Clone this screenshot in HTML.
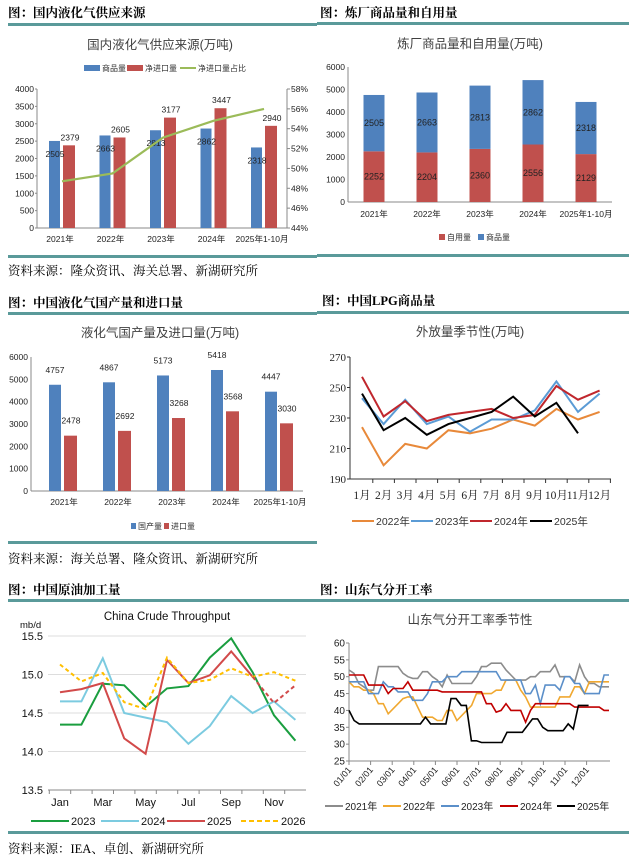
<!DOCTYPE html>
<html><head><meta charset="utf-8"><style>
html,body{margin:0;padding:0;background:#fff;}
svg{display:block;font-family:"Liberation Sans","Noto Sans CJK SC",sans-serif;}
.t{font-family:"Liberation Serif","Noto Serif CJK SC",serif;font-weight:bold;font-size:12.5px;fill:#000;}
.s{font-family:"Liberation Serif","Noto Serif CJK SC",serif;font-size:12.5px;fill:#000;}
.ct{font-size:12.5px;fill:#404040;}
.ax{font-size:8.5px;fill:#222;}
</style></head><body>
<svg id="svg" width="634" height="861" viewBox="0 0 634 861" xmlns="http://www.w3.org/2000/svg">
<text class="t" x="8" y="17">图：国内液化气供应来源</text>
<text class="t" x="320" y="17">图：炼厂商品量和自用量</text>
<rect x="8" y="23" width="309" height="3" fill="#5a9a9a"/>
<rect x="317" y="22" width="312" height="3" fill="#5a9a9a"/>
<rect x="8" y="255" width="309" height="3" fill="#5a9a9a"/>
<rect x="317" y="254" width="312" height="3" fill="#5a9a9a"/>
<text class="s" x="8" y="275">资料来源：隆众资讯、海关总署、新湖研究所</text>

<text class="t" x="8" y="307">图：中国液化气国产量和进口量</text>
<text class="t" x="322" y="305">图：中国LPG商品量</text>
<rect x="8" y="312" width="309" height="3" fill="#5a9a9a"/>
<rect x="317" y="311" width="312" height="3" fill="#5a9a9a"/>
<rect x="8" y="541" width="309" height="3" fill="#5a9a9a"/>
<text class="s" x="8" y="563">资料来源：海关总署、隆众资讯、新湖研究所</text>

<text class="t" x="8" y="594">图：中国原油加工量</text>
<text class="t" x="320" y="594">图：山东气分开工率</text>
<rect x="8" y="599" width="309" height="3" fill="#5a9a9a"/>
<rect x="317" y="599" width="312" height="3" fill="#5a9a9a"/>
<rect x="8" y="831" width="309" height="3" fill="#5a9a9a"/>
<rect x="317" y="831" width="312" height="3" fill="#5a9a9a"/>
<text class="s" x="8" y="853">资料来源：IEA、卓创、新湖研究所</text>
</svg>
<script>
// ---- Chart 1 data ----
const cats1=['2021年','2022年','2023年','2024年','2025年1-10月'];
const com1=[2505,2663,2813,2862,2318];
const imp1=[2379,2605,3177,3447,2940];
const share1=[48.7,49.5,53.1,54.8,56.0];
const ticks1L=[0,500,1000,1500,2000,2500,3000,3500,4000];
const ticks1R=[44,46,48,50,52,54,56,58];
// ---- Chart 2 data ----
const cats2=['2021年','2022年','2023年','2024年','2025年1-10月'];
const self2=[2252,2204,2360,2556,2129];
const com2=[2505,2663,2813,2862,2318];
const ticks2=[0,1000,2000,3000,4000,5000,6000];
// ---- Chart 3 data ----
const cats3=['2021年','2022年','2023年','2024年','2025年1-10月'];
const prod3=[4757,4867,5173,5418,4447];
const imp3=[2478,2692,3268,3568,3030];
const ticks3=[0,1000,2000,3000,4000,5000,6000];
// ---- Chart 4 data ----
const months4=['1月','2月','3月','4月','5月','6月','7月','8月','9月','10月','11月','12月'];
const s4_2022=[224,199,213,210,222,220,223,229,225,236,229,234];
const s4_2023=[243,226,242,226,231,221,229,229,235,254,234,246];
const s4_2024=[257,231,241,228,232,234,236,230,232,251,242,248];
const s4_2025=[246,222,230,219,226,230,234,244,231,240,220];
const ticks4=[190,210,230,250,270];
// ---- Chart 5 data ----
const months5=['Jan','','Mar','','May','','Jul','','Sep','','Nov',''];
const s5_2023=[14.35,14.35,14.88,14.86,14.58,14.82,14.85,15.22,15.47,15.03,14.47,14.14];
const s5_2024=[14.65,14.65,15.21,14.5,14.44,14.38,14.1,14.33,14.72,14.5,14.65,14.41];
const s5_2025=[14.77,14.81,14.89,14.17,13.97,15.19,14.89,14.99,15.3,14.97];
const s5_2025f=[14.97,14.63,14.86];
const s5_2026=[15.13,14.91,15.02,14.64,14.55,15.22,14.89,14.93,15.08,14.97,15.03,14.92];
const ticks5=[13.5,14.0,14.5,15.0,15.5];
// ---- Chart 6 data ----
const months6=['01/01','02/01','03/01','04/01','05/01','06/01','07/01','08/01','09/01','10/01','11/01','12/01'];
const s6_2021=[52,51,48,47,46,46,53,53,53,53,53,51,50,49.5,49.5,51.5,51.5,50,49,47,50.5,48,48,48,48,48,50,53,53,54,54,54,52,50.5,49,49,49,50,50,51.5,51.5,51.5,53.5,50,50,50,48.5,53.5,50,48,48,47,47,47];
const s6_2022=[48.5,47,47,46,46,45,42,42,39,40.5,42,43.5,44,44,41,38,38,38,37,37,40,40,37,38.5,40,41.5,45,45,45,45,46,46,49,49,49,46,44,41,41,41,41,41,41,44,44,44,47,47,45,48.5,48.5,48.5,48.5,48.5];
const s6_2023=[48.5,48.5,48.5,48.5,45,45,45,48.5,47,47,45.5,45.5,45.5,43,43,43,45,48.5,48.5,48.5,50,50,50,51.5,51.5,51.5,51.5,51.5,51.5,51.5,51.5,49,49,49,49,49,45,45,47.5,42,47.5,47.5,47.5,46,50,50,48,48,45,45,45,45,50.5,50.5];
const s6_2024=[50.5,50.5,50.5,50.5,47.5,47.5,47.5,47.5,45,46.5,46.5,46.5,48.5,46,46,46,46,46,46,45.5,45.5,45.5,45.5,45.5,45.5,45.5,45.5,45.5,42,42,39.5,40,42,40,40,40,36.5,40,42,42,42,42,42,42,42,42,41,41,41,41,41,41,40,40];
const s6_2025=[40,37,36,36,36,36,36,36,36,36,36,36,36,36,36,38,36,36,36,36,43.5,43.5,41.5,41.5,31,31,30.5,30.5,30.5,30.5,30.5,33.5,33.5,33.5,33.5,35.5,37.5,37.5,35,34,34,34,34,36,34.5,41.5,41.5,41.5];
const ticks6=[25,30,35,40,45,50,55,60];

const svg=document.getElementById('svg');
const NS='http://www.w3.org/2000/svg';
function mk(tag,attrs,txt){const e=document.createElementNS(NS,tag);for(const k in attrs)e.setAttribute(k,attrs[k]);if(txt!==undefined)e.textContent=txt;svg.appendChild(e);return e;}
function lin(d0,d1,r0,r1){return v=>r0+(v-d0)*(r1-r0)/(d1-d0);}
function poly(pts){return pts.map(p=>p[0].toFixed(1)+','+p[1].toFixed(1)).join(' ');}
let el;

// ================= Chart 1 =================
{
el=mk('text',{x:160,y:49,'text-anchor':'middle',class:'ct'},'国内液化气供应来源(万吨)');


const y=lin(0,4000,228,89), y2=lin(44,58,228,89), cx=i=>60+i*50.5;
ticks1L.forEach(t=>{
 el=mk('text',{x:34,y:y(t)+3,'text-anchor':'end',class:'ax'},String(t));
 
 
 el=mk('line',{x1:35,x2:37,y1:y(t),y2:y(t),stroke:'#888'});
 
 
});
ticks1R.forEach(t=>{
 el=mk('text',{x:291,y:y2(t)+3,class:'ax'},t+'%');
 
 
 el=mk('line',{x1:287,x2:290,y1:y2(t),y2:y2(t),stroke:'#888'});
 
 
});
el=mk('line',{x1:37,x2:37,y1:89,y2:228,stroke:'#888'});


el=mk('line',{x1:287,x2:287,y1:89,y2:228,stroke:'#888'});


el=mk('line',{x1:37,x2:287,y1:228,y2:228,stroke:'#888'});


cats1.forEach((c,i)=>{
 el=mk('text',{x:cx(i),y:242,'text-anchor':'middle',class:'ax'},c);
 
 
 el=mk('rect',{x:cx(i)-11,y:y(com1[i]),width:11,height:228-y(com1[i]),fill:'#4f81bd'});
 
 
 el=mk('rect',{x:cx(i)+3,y:y(imp1[i]),width:12,height:228-y(imp1[i]),fill:'#c0504d'});
 
 
 el=mk('text',{x:cx(i)-5,y:y(com1[i])+16,'text-anchor':'middle',class:'ax'},String(com1[i]));
 
 
 el=mk('text',{x:cx(i)+10,y:y(imp1[i])-5,'text-anchor':'middle',class:'ax'},String(imp1[i]));
 
 
});
el=mk('polyline',{points:poly(share1.map((v,i)=>[cx(i)+2,y2(v)])),fill:'none',stroke:'#9bbb59','stroke-width':2.2});


const lg=[['rect',84,'#4f81bd','商品量'],['rect',127,'#c0504d','净进口量'],['line',180,'#9bbb59','净进口量占比']];
lg.forEach(l=>{
 if(l[0]==='rect'){el=mk('rect',{x:l[1],y:65,width:16,height:6,fill:l[2]});}
 else{el=mk('line',{x1:l[1],x2:l[1]+16,y1:68,y2:68,stroke:l[2],'stroke-width':2});}
 
 
 el=mk('text',{x:l[1]+18,y:71,style:'font-size:8px;fill:#333'},l[3]);
 
 
});
}

// ================= Chart 2 =================
{
el=mk('text',{x:470,y:48,'text-anchor':'middle',class:'ct'},'炼厂商品量和自用量(万吨)');


const y=lin(0,6000,202,67), cx=i=>374+i*53;
ticks2.forEach(t=>{
 el=mk('text',{x:345,y:y(t)+3,'text-anchor':'end',class:'ax'},String(t));
 
 
});
el=mk('line',{x1:348,x2:348,y1:67,y2:202,stroke:'#888'});


el=mk('line',{x1:348,x2:612,y1:202,y2:202,stroke:'#888'});


cats2.forEach((c,i)=>{
 el=mk('text',{x:cx(i),y:217,'text-anchor':'middle',class:'ax'},c);
 
 
 const ys=y(self2[i]), yt=y(self2[i]+com2[i]);
 el=mk('rect',{x:cx(i)-10.5,y:ys,width:21,height:202-ys,fill:'#c0504d'});
 
 
 el=mk('rect',{x:cx(i)-10.5,y:yt,width:21,height:ys-yt,fill:'#4f81bd'});
 
 
 el=mk('text',{x:cx(i),y:(ys+202)/2+3,'text-anchor':'middle',style:'font-size:9px;fill:#222'},String(self2[i]));
 
 
 el=mk('text',{x:cx(i),y:(ys+yt)/2+3,'text-anchor':'middle',style:'font-size:9px;fill:#222'},String(com2[i]));
 
 
});
[[439,'#c0504d','自用量'],[478,'#4f81bd','商品量']].forEach(l=>{
 el=mk('rect',{x:l[0],y:234,width:6,height:6,fill:l[1]});
 
 
 el=mk('text',{x:l[0]+8,y:240,style:'font-size:8px;fill:#333'},l[2]);
 
 
});
}

// ================= Chart 3 =================
{
el=mk('text',{x:160,y:337,'text-anchor':'middle',class:'ct'},'液化气国产量及进口量(万吨)');


const y=lin(0,6000,491,357), cx=i=>61+i*54;
ticks3.forEach(t=>{
 el=mk('text',{x:28,y:y(t)+3,'text-anchor':'end',class:'ax'},String(t));
 
 
});
el=mk('line',{x1:31,x2:31,y1:357,y2:491,stroke:'#888'});


el=mk('line',{x1:31,x2:303,y1:491,y2:491,stroke:'#888'});


cats3.forEach((c,i)=>{
 el=mk('text',{x:cx(i)+3,y:505,'text-anchor':'middle',class:'ax'},c);
 
 
 el=mk('rect',{x:cx(i)-12,y:y(prod3[i]),width:12,height:491-y(prod3[i]),fill:'#4f81bd'});
 
 
 el=mk('rect',{x:cx(i)+3,y:y(imp3[i]),width:13,height:491-y(imp3[i]),fill:'#c0504d'});
 
 
 el=mk('text',{x:cx(i)-6,y:y(prod3[i])-12,'text-anchor':'middle',class:'ax'},String(prod3[i]));
 
 
 el=mk('text',{x:cx(i)+10,y:y(imp3[i])-12,'text-anchor':'middle',class:'ax'},String(imp3[i]));
 
 
});
[[131,'#4f81bd','国产量'],[164,'#c0504d','进口量']].forEach(l=>{
 el=mk('rect',{x:l[0],y:523,width:5,height:6,fill:l[1]});
 
 
 el=mk('text',{x:l[0]+7,y:529,style:'font-size:8px;fill:#333'},l[2]);
 
 
});
}

// ================= Chart 4 =================
{
el=mk('text',{x:470,y:336,'text-anchor':'middle',class:'ct'},'外放量季节性(万吨)');


const y=lin(190,270,479,357), x=i=>362+i*21.6;
ticks4.forEach(t=>{
 el=mk('text',{x:346,y:y(t)+4,'text-anchor':'end',style:'font-family:"Liberation Serif",serif;font-size:11px;fill:#222'},String(t));
 
 
 el=mk('line',{x1:347,x2:350,y1:y(t),y2:y(t),stroke:'#333'});
 
 
});
el=mk('line',{x1:350,x2:350,y1:357,y2:479,stroke:'#333'});


el=mk('line',{x1:350,x2:611,y1:479,y2:479,stroke:'#333'});


months4.forEach((m,i)=>{
 el=mk('line',{x1:x(i)+10.8,x2:x(i)+10.8,y1:479,y2:483,stroke:'#333'});
 
 
 el=mk('text',{x:x(i),y:499,'text-anchor':'middle',style:'font-family:"Liberation Serif","Noto Serif CJK SC",serif;font-size:11.5px;fill:#222'},m);
 
 
});
const ser=[[s4_2022,'#e8893a','2022年',352],[s4_2023,'#5b9bd5','2023年',411],[s4_2024,'#c0272d','2024年',470],[s4_2025,'#000','2025年',530]];
ser.forEach(s=>{
 el=mk('polyline',{points:poly(s[0].map((v,i)=>[x(i),y(v)])),fill:'none',stroke:s[1],'stroke-width':2});
 
 
 el=mk('line',{x1:s[3],x2:s[3]+22,y1:521,y2:521,stroke:s[1],'stroke-width':2});
 
 
 el=mk('text',{x:s[3]+24,y:525,style:'font-size:10.5px;fill:#333'},s[2]);
 
 
});
}

// ================= Chart 5 =================
{
el=mk('text',{x:167,y:620,'text-anchor':'middle',style:'font-size:11.5px;fill:#111'},'China Crude Throughput');


el=mk('text',{x:20,y:628,style:'font-size:9.5px;fill:#111'},'mb/d');


const y=lin(13.5,15.5,790,636), x=i=>60+i*21.4;
ticks5.forEach(t=>{
 el=mk('line',{x1:48,x2:306,y1:y(t),y2:y(t),stroke:t===13.5?'#888':'#ddd'});
 
 
 el=mk('text',{x:43,y:y(t)+4,'text-anchor':'end',style:'font-size:11px;fill:#111'},t.toFixed(1));
 
 
});
months5.forEach((m,i)=>{
 el=mk('line',{x1:x(i)-10.7,x2:x(i)-10.7,y1:790,y2:794,stroke:'#888'});
 
 
 if(m){el=mk('text',{x:x(i),y:806,'text-anchor':'middle',style:'font-size:11px;fill:#111'},m);
 
 }
});
const ser=[[s5_2023,'#1a9e3f','',0],[s5_2024,'#7ccbe0','',0],[s5_2025,'#d24a4a','',0],[s5_2026,'#ffbf00','4,3',0]];
ser.forEach((s,k)=>{
 el=mk('polyline',{points:poly(s[0].map((v,i)=>[x(i),y(v)])),fill:'none',stroke:s[1],'stroke-width':2,'stroke-dasharray':s[2]||'none'});
 
 
});
el=mk('polyline',{points:poly(s5_2025f.map((v,i)=>[x(i+9),y(v)])),fill:'none',stroke:'#d24a4a','stroke-width':2,'stroke-dasharray':'4,3'});


[[31,'#1a9e3f','','2023'],[101,'#7ccbe0','','2024'],[167,'#d24a4a','','2025'],[241,'#ffbf00','5,3','2026']].forEach(l=>{
 el=mk('line',{x1:l[0],x2:l[0]+38,y1:821,y2:821,stroke:l[1],'stroke-width':2,'stroke-dasharray':l[2]||'none'});
 
 
 el=mk('text',{x:l[0]+40,y:825,style:'font-size:11px;fill:#111'},l[3]);
 
 
});
}

// ================= Chart 6 =================
{
el=mk('text',{x:470,y:624,'text-anchor':'middle',class:'ct'},'山东气分开工率季节性');


const y=lin(25,60,761,643), xm=i=>349+i*21.6;
ticks6.forEach(t=>{
 el=mk('text',{x:345,y:y(t)+3.5,'text-anchor':'end',style:'font-size:10px;fill:#222'},String(t));
 
 
 el=mk('line',{x1:346,x2:349,y1:y(t),y2:y(t),stroke:'#888'});
 
 
});
el=mk('line',{x1:349,x2:349,y1:643,y2:761,stroke:'#888'});


el=mk('line',{x1:349,x2:610,y1:761,y2:761,stroke:'#888'});


months6.forEach((m,i)=>{
 el=mk('line',{x1:xm(i),x2:xm(i),y1:761,y2:765,stroke:'#888'});
 
 
 el=mk('text',{x:xm(i)+3,y:770,'text-anchor':'end',transform:'rotate(-50 '+(xm(i)+3)+' 770)',style:'font-size:9px;fill:#222'},m);
 
 
});
const wx=i=>349+i*(260/51);
const ser=[[s6_2021,'#8c8c8c','2021年',325],[s6_2022,'#f0a830','2022年',383],[s6_2023,'#5b8fc9','2023年',441],[s6_2024,'#c00000','2024年',500],[s6_2025,'#000','2025年',557]];
ser.forEach(s=>{
 const n=s[0].length, sc=s[0]===s6_2025?(i=>wx(i)):(i=>349+i*260/(n-1));
 el=mk('polyline',{points:poly(s[0].map((v,i)=>[sc(i),y(v)])),fill:'none',stroke:s[1],'stroke-width':1.6});
 
 
 el=mk('line',{x1:s[3],x2:s[3]+18,y1:806,y2:806,stroke:s[1],'stroke-width':2});
 
 
 el=mk('text',{x:s[3]+20,y:810,style:'font-size:10px;fill:#222'},s[2]);
 
 
});
}
</script>
</body></html>
